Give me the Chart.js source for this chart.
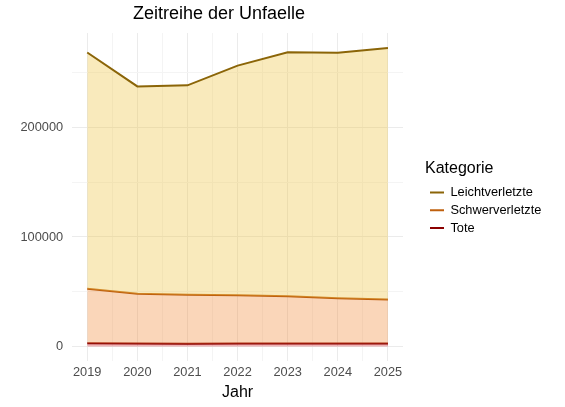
<!DOCTYPE html>
<html>
<head>
<meta charset="utf-8">
<script src="https://cdn.jsdelivr.net/npm/chart.js@4"></script>
<style>
  html, body { margin: 0; padding: 0; background: #fff; }
  #wrap { position: relative; width: 565px; height: 407px; }
  #titel {
    position: absolute; left: 0; top: 3px; width: 438px; text-align: center;
    font-family: "Liberation Sans", Arial, sans-serif; font-size: 18px; color: #000;
  }
</style>
</head>
<body>
<div id="wrap">
  <div id="titel">Zeitreihe der Unfaelle</div>
  <canvas id="unfall_chart" width="565" height="407"></canvas>
</div>
<script>
const jahre = [2019, 2020, 2021, 2022, 2023, 2024, 2025];
const leichtverletzte = [268500, 237500, 238500, 256500, 268700, 268200, 272700];
const schwerverletzte = [52700, 48100, 47200, 46900, 45900, 44100, 42900];
const tote = [3050, 2720, 2560, 2790, 2840, 2770, 2750];
const y_ticks = [0, 100000, 200000];
const y_grid = [0, 50000, 100000, 150000, 200000, 250000];
const x_grid = [2019, 2019.5, 2020, 2020.5, 2021, 2021.5, 2022, 2022.5, 2023, 2023.5, 2024, 2024.5, 2025];

function punkte(werte) {
    return jahre.map((j, i) => ({ x: j, y: werte[i] }));
}

const schrift = "'Liberation Sans', Arial, sans-serif";

// Legende: Platz rechts reservieren, dann etwas nach rechts/unten schieben
const legenden_platz = {
    id: 'legenden_platz',
    beforeLayout(chart) {
        const lg = chart.legend;
        if (lg && !lg._gepatcht) {
            const fit_orig = lg.fit;
            lg.fit = function () {
                fit_orig.call(this);
                this.width = 162;
            };
            lg._gepatcht = true;
        }
    },
    afterLayout(chart) {
        const lg = chart.legend;
        lg.left = 425;
        lg.top += 3;
        lg.bottom += 3;
    }
};

new Chart(document.getElementById("unfall_chart"), {
    type: 'line',
    data: {
        datasets: [{
            label: 'Leichtverletzte',
            data: punkte(leichtverletzte),
            borderColor: '#8b6508',
            backgroundColor: 'rgba(240,200,80,0.38)',
            fill: 1,
            borderWidth: 2,
            pointRadius: 0,
            tension: 0
        }, {
            label: 'Schwerverletzte',
            data: punkte(schwerverletzte),
            borderColor: '#bf600e',
            backgroundColor: 'rgba(240,140,60,0.36)',
            fill: 2,
            borderWidth: 2,
            pointRadius: 0,
            tension: 0
        }, {
            label: 'Tote',
            data: punkte(tote),
            borderColor: '#8b0000',
            backgroundColor: 'rgba(210,40,50,0.35)',
            fill: 'origin',
            borderWidth: 2,
            pointRadius: 0,
            tension: 0
        }]
    },
    plugins: [legenden_platz],
    options: {
        responsive: false,
        animation: false,
        layout: { padding: { top: 33, right: 0, left: 11.5, bottom: 5 } },
        plugins: {
            tooltip: { enabled: false },
            legend: {
                position: 'right',
                align: 'center',
                fullSize: false,
                title: {
                    display: true,
                    text: 'Kategorie',
                    position: 'start',
                    color: '#000',
                    font: { family: schrift, size: 16 },
                    padding: { top: 0, bottom: 1 }
                },
                labels: {
                    color: '#000',
                    font: { family: schrift, size: 12.8 },
                    boxWidth: 14,
                    boxHeight: 2,
                    padding: 5,
                    generateLabels: chart => chart.data.datasets.map((ds, i) => ({
                        text: ds.label,
                        fillStyle: ds.borderColor,
                        strokeStyle: ds.borderColor,
                        lineWidth: 0,
                        datasetIndex: i
                    }))
                }
            }
        },
        scales: {
            x: {
                type: 'linear',
                min: 2018.7,
                max: 2025.3,
                border: { display: false },
                afterBuildTicks: s => { s.ticks = x_grid.map(v => ({ value: v })); },
                grid: {
                    color: ctx => Number.isInteger(ctx.tick.value) ? '#ebebeb' : '#f4f4f4',
                    drawTicks: false
                },
                ticks: {
                    autoSkip: false,
                    maxRotation: 0,
                    padding: 3,
                    color: '#4d4d4d',
                    font: { family: schrift, size: 12.8 },
                    callback: v => jahre.includes(v) ? String(v) : ''
                },
                title: {
                    display: true,
                    text: 'Jahr',
                    color: '#000',
                    font: { family: schrift, size: 16 },
                    padding: { top: 0, bottom: 0 }
                }
            },
            y: {
                min: -13650,
                max: 286300,
                border: { display: false },
                afterBuildTicks: s => { s.ticks = y_grid.map(v => ({ value: v })); },
                grid: {
                    color: ctx => y_ticks.includes(ctx.tick.value) ? '#ebebeb' : '#f4f4f4',
                    drawTicks: false
                },
                ticks: {
                    padding: 9,
                    color: '#4d4d4d',
                    font: { family: schrift, size: 12.8 },
                    callback: v => y_ticks.includes(v) ? String(v) : ''
                }
            }
        }
    }
});
</script>
</body>
</html>
